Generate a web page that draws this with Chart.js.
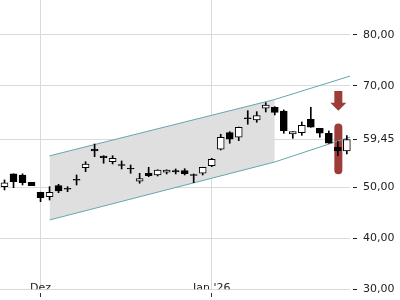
<!DOCTYPE html>
<html>
<head>
<meta charset="utf-8">
<script src="https://cdn.jsdelivr.net/npm/chart.js@4/dist/chart.umd.min.js"></script>
<style>
    html, body { margin: 0; padding: 0; background: #fff; }
    #wrap { width: 400px; height: 300px; }
</style>
</head>
<body>
<div id="wrap"><canvas id="chart"></canvas></div>
<script>
// ── daily candles (trading days, late Nov → Jan) ──
const opens  = [50.18, 52.68, 52.48, 51.04, 49.08, 48.21, 50.38, 49.86, 51.60, 53.91, 57.53, 56.21, 55.09, 54.50, 53.80, 51.24, 52.81, 52.48, 53.01, 53.36, 53.32, 52.54, 52.81, 54.31, 57.53, 60.79, 59.89, 63.70, 63.29, 65.59, 65.79, 65.06, 60.54, 60.79, 63.43, 61.66, 60.68, 57.92, 57.20];
const closes = [50.91, 51.16, 50.97, 50.38, 48.02, 49.08, 49.33, 49.67, 51.45, 54.64, 57.20, 55.88, 55.76, 54.38, 53.68, 51.75, 52.34, 53.46, 53.46, 53.07, 52.73, 52.38, 53.99, 55.57, 59.89, 59.50, 61.86, 63.55, 64.14, 66.24, 64.80, 61.19, 60.99, 62.25, 61.86, 60.68, 58.71, 57.26, 59.45];
const highs  = [51.50, 52.70, 52.70, 51.04, 49.10, 50.18, 50.65, 50.18, 52.48, 55.09, 58.57, 56.27, 56.27, 55.23, 54.44, 52.81, 53.99, 53.50, 53.50, 53.66, 53.72, 52.68, 54.00, 55.76, 60.48, 60.99, 61.90, 65.12, 64.92, 66.69, 65.91, 65.26, 60.99, 62.90, 65.79, 61.66, 61.13, 59.03, 60.20];
const lows   = [49.53, 49.98, 50.51, 50.38, 47.23, 47.56, 49.00, 49.20, 50.51, 53.13, 56.08, 54.78, 54.64, 53.66, 52.81, 50.85, 52.14, 52.28, 52.68, 52.68, 52.48, 50.97, 52.48, 54.11, 57.39, 58.71, 59.22, 62.45, 62.84, 64.86, 64.27, 60.68, 59.69, 60.28, 61.86, 59.89, 58.71, 56.27, 56.61];

// month labels by candle index
const monthTickIdx = [4, 23];
const monthTickLabels = ['Dez', "Jan '26"];
const yTicks = [30, 40, 50, 59.45, 70, 80];

// ── trend channel (candle index → price) ──
const channelX      = [5, 30, 38.5];
const channelTop    = [56.24, 67.32, 72.00];
const channelBottom = [43.63, 55.03, 60.01];
const channelFillTo = 2;   // shaded part uses the first two points

// ── sell signal ──
const signalIndex = 37;
const signalArrow = [69.0, 65.1];
const signalBand  = [62.6, 52.6];

const GRID = '#dadada';
const TEAL = '#64a8ad';
const SHADE = '#dfdfdf';
const RED = '#9e3c37';
const TEXT = '#222';

Chart.defaults.font.family = 'DejaVu Sans';
Chart.defaults.font.size = 11;

const bodyColors = opens.map((o, i) => closes[i] >= o ? '#fff' : '#000');
const pts = (xs, ys) => xs.map((x, i) => ({ x, y: ys[i] }));

// red arrow + band behind the candles
const signalPlugin = {
    id: 'signal',
    beforeDatasetsDraw(chart) {
        const ctx = chart.ctx, xs = chart.scales.x, ys = chart.scales.y;
        const cx = xs.getPixelForValue(signalIndex) + 0.5;
        ctx.save();
        ctx.fillStyle = RED;
        const a0 = ys.getPixelForValue(signalArrow[0]), a1 = ys.getPixelForValue(signalArrow[1]);
        const head = 8;
        ctx.beginPath();
        ctx.moveTo(cx - 4, a0);
        ctx.lineTo(cx + 4, a0);
        ctx.lineTo(cx + 4, a1 - head);
        ctx.lineTo(cx + 8, a1 - head);
        ctx.lineTo(cx, a1);
        ctx.lineTo(cx - 8, a1 - head);
        ctx.lineTo(cx - 4, a1 - head);
        ctx.closePath();
        ctx.fill();
        const b0 = ys.getPixelForValue(signalBand[0]), b1 = ys.getPixelForValue(signalBand[1]);
        ctx.beginPath();
        ctx.roundRect(cx - 4, b0, 8, b1 - b0, 4);
        ctx.fill();
        ctx.restore();
    }
};

new Chart(document.getElementById('chart'), {
    type: 'bar',
    data: {
        datasets: [{
            label: 'body',
            data: opens.map((o, i) => ({ x: i, y: [o, closes[i]] })),
            backgroundColor: bodyColors,
            borderColor: '#000',
            borderWidth: 1,
            borderSkipped: false,
            barThickness: 7,
            grouped: false,
            clip: false,
            order: 0
        }, {
            label: 'wick',
            data: lows.map((l, i) => ({ x: i, y: [l, highs[i]] })),
            backgroundColor: '#000',
            barThickness: 1,
            grouped: false,
            clip: false,
            order: 1
        }, {
            type: 'line',
            label: 'top',
            data: pts(channelX, channelTop),
            borderColor: TEAL,
            borderWidth: 1,
            pointRadius: 0,
            order: 2
        }, {
            type: 'line',
            label: 'bottom',
            data: pts(channelX, channelBottom),
            borderColor: TEAL,
            borderWidth: 1,
            pointRadius: 0,
            order: 2
        }, {
            type: 'line',
            label: 'shade top',
            data: pts(channelX.slice(0, channelFillTo), channelTop),
            borderWidth: 0,
            pointRadius: 0,
            order: 3
        }, {
            type: 'line',
            label: 'shade bottom',
            data: pts(channelX.slice(0, channelFillTo), channelBottom),
            borderWidth: 0,
            pointRadius: 0,
            fill: '-1',
            backgroundColor: SHADE,
            order: 3
        }]
    },
    options: {
        responsive: true,
        maintainAspectRatio: false,
        animation: false,
        layout: { padding: { left: 0, right: 4, top: 0, bottom: 10.7 } },
        plugins: { legend: { display: false }, tooltip: { enabled: false } },
        scales: {
            x: {
                type: 'linear',
                offset: false,
                min: -0.5,
                max: 38.35,
                afterBuildTicks: s => { s.ticks = monthTickIdx.map(v => ({ value: v })); },
                border: { display: false },
                grid: {
                    offset: false,
                    color: GRID,
                    tickColor: '#333',
                    tickLength: 8,
                    tickBorderDash: [0, 4, 4, 20]
                },
                ticks: {
                    maxRotation: 0,
                    padding: -16,
                    color: TEXT,
                    callback: v => monthTickLabels[monthTickIdx.indexOf(v)]
                }
            },
            y: {
                position: 'right',
                min: 30,
                max: 86.88,
                afterBuildTicks: s => { s.ticks = yTicks.map(v => ({ value: v })); },
                afterFit: s => { s.paddingTop = 0; s.paddingBottom = 0; s.width = 46; },
                border: { display: false },
                grid: { color: GRID, tickColor: '#222', tickLength: 7, tickBorderDash: [0, 3, 4, 20] },
                ticks: { padding: 6, color: TEXT, callback: v => v.toFixed(2).replace('.', ',') }
            }
        }
    },
    plugins: [signalPlugin]
});
</script>
</body>
</html>
